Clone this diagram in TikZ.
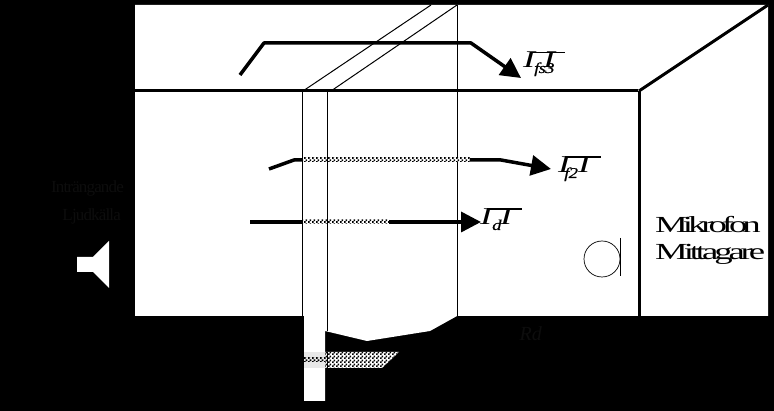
\documentclass[tikz,border=0pt]{standalone}
\usepackage{fontspec}
\setmainfont{Liberation Serif}
\newfontfamily\symf[FakeStretch=1.5]{Liberation Serif Italic}
\newfontfamily\subf[FakeStretch=1.25,FakeBold=0.5]{Liberation Serif Italic}
\newfontfamily\labf[FakeStretch=1.6]{Liberation Serif}
\usetikzlibrary{patterns,arrows.meta}
\definecolor{dim}{gray}{0.05}
\pgfdeclarepatternformonly{chk}{\pgfqpoint{0pt}{0pt}}{\pgfqpoint{4pt}{4pt}}{\pgfqpoint{4pt}{4pt}}{%
 \pgfpathrectangle{\pgfqpoint{0pt}{0pt}}{\pgfqpoint{2pt}{2pt}}%
 \pgfpathrectangle{\pgfqpoint{2pt}{2pt}}{\pgfqpoint{2pt}{2pt}}%
 \pgfusepath{fill}}
\newcommand{\flowlabel}[3]{{\fontsize{24}{24}\selectfont\symf I\kern8pt I}\kern#1{\raisebox{-5pt}{\fontsize{15}{15}\subf\addfontfeatures{LetterSpace=#2}#3}}}
\tikzset{
 x=1pt,y=-1pt,
 thinln/.style={draw=black,line width=1pt},
 wall/.style={draw=black,line width=3pt},
 flow/.style={draw=black,line width=3.5pt,line join=round},
 tip/.style={-{Triangle[length=20pt,width=20pt]}},
 barln/.style={draw=black,line width=1.3pt},
 chkfill/.style={pattern=chk,pattern color=black},
 sym/.style={inner sep=0pt,anchor=base west,text=black},
 lab/.style={inner sep=0pt,font=\fontsize{23}{23}\selectfont\labf,text=black,anchor=base west},
 dimlab/.style={inner sep=0pt,font=\fontsize{17}{17}\selectfont,text=dim,anchor=base east}
}
\begin{document}
\begin{tikzpicture}
\useasboundingbox (0,0) rectangle (774,411);
\fill[black] (0,0) rectangle (774,411);
\fill[white] (135,5) -- (768,5) -- (768,316) -- (457,316) -- (430,331) -- (367,341) -- (325,331) -- (325,401) -- (304,401) -- (304,316) -- (135,316) -- cycle;
% hatched floor patch
\fill[white] (325,352) -- (399,352) -- (382,368) -- (325,368) -- cycle;
\fill[chkfill] (325,352) -- (399,352) -- (382,368) -- (325,368) -- cycle;
\fill[gray!18] (304,352) rectangle (325,368);
\fill[chkfill] (304,358) rectangle (325,362);
% walls
\coordinate (hl) at (135,91);
\coordinate (hr) at (638,91);
\coordinate (c) at (639,91);
\coordinate (cb) at (639,316);
\coordinate (ct) at (768,5);
\draw[wall] (hl) -- (hr);
\draw[wall] (c) -- (cb);
\draw[wall] (c) -- (ct);
% shaft
\coordinate (a1) at (303,91);
\coordinate (a2) at (431,5);
\coordinate (b1) at (331,91);
\coordinate (b2) at (457,5);
\coordinate (v1) at (302.5,91);
\coordinate (v1b) at (302.5,316);
\coordinate (v2) at (327.5,91);
\coordinate (v2b) at (327.5,331);
\coordinate (v3b) at (457,316);
\coordinate (v4) at (327.5,352);
\coordinate (v4b) at (327.5,368);
\draw[thinln] (a1) -- (a2);
\draw[thinln] (b1) -- (b2);
\draw[thinln] (b2) -- (v3b);
\draw[thinln] (v1) -- (v1b);
\draw[thinln] (v2) -- (v2b);
\draw[thinln] (v4) -- (v4b);
% flows
\coordinate (f3a) at (240,75);
\coordinate (f3b) at (264,43);
\coordinate (f3c) at (471,43);
\coordinate (f3d) at (521,78);
\draw[flow,tip] (f3a) -- (f3b) -- (f3c) -- (f3d);
\coordinate (f2a) at (269,169);
\coordinate (f2b) at (294,160);
\coordinate (f2c) at (501,160);
\coordinate (f2d) at (551,169);
\draw[flow,tip] (f2a) -- (f2b) -- (f2c) -- (f2d);
\fill[white] (303,158) rectangle (470,162);
\fill[chkfill] (303,158) rectangle (470,162);
\coordinate (f1a) at (250,222);
\coordinate (f1b) at (481,222);
\draw[flow,tip] (f1a) -- (f1b);
\fill[white] (303,220) rectangle (389,224);
\fill[chkfill] (303,220) rectangle (389,224);
\draw[thinln] (302.5,150) -- (302.5,230);
\draw[thinln] (327.5,150) -- (327.5,230);
% labels
\node[sym] (l3) at (523,68) {\flowlabel{-21pt}{-5}{fs3}};
\coordinate (b3a) at (530,52.5);
\coordinate (b3b) at (565,52.5);
\draw[barln] (b3a) -- (b3b);
\node[sym] (l2) at (558,173) {\flowlabel{-26pt}{-5}{f2}};
\coordinate (b2a) at (565,157);
\coordinate (b2b) at (601,157);
\draw[barln] (b2a) -- (b2b);
\node[sym] (l1) at (480,225) {\flowlabel{-20pt}{0}{d}};
\coordinate (b1a) at (487,209);
\coordinate (b1b) at (522,209);
\draw[barln] (b1a) -- (b1b);
\node[lab] (m1) at (655,233) {\addfontfeatures{LetterSpace=-22}Mikrofon};
\node[lab] (m2) at (655,260) {\addfontfeatures{LetterSpace=-18}Mittagare};
\node[dimlab] (d1) at (124,193) {\addfontfeatures{LetterSpace=-5}Inträngande};
\node[dimlab] (d0) at (121,221) {\addfontfeatures{LetterSpace=-5}Ljudkälla};
\node[dimlab,font=\fontsize{20}{20}\selectfont\itshape] (d2) at (542,341) {Rd};
% mic
\draw[thinln,line width=.7pt] (602,259) circle (18);
\draw[thinln] (620.5,238) -- (620.5,276);
% speaker
\fill[white] (77,257) -- (93,257) -- (109,241) -- (109,288) -- (93,272) -- (77,272) -- cycle;
\end{tikzpicture}
\end{document}
